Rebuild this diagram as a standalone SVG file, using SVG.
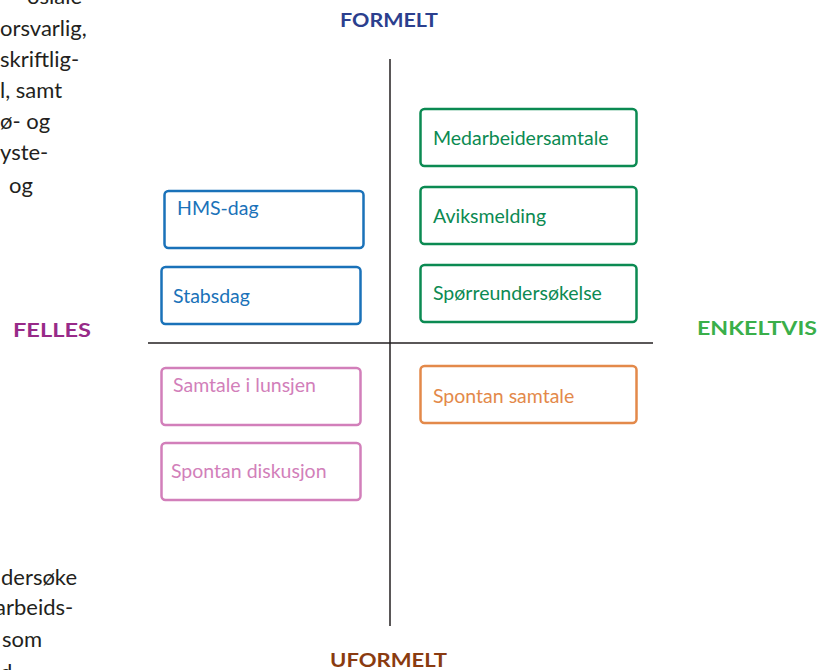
<svg xmlns="http://www.w3.org/2000/svg" width="830" height="670" viewBox="0 0 830 670">
  <style>
    .body { font-family: Lato, "Liberation Sans", sans-serif; font-size: 22px; fill: #231f20; }
    .axis { stroke: #231f20; stroke-width: 1.5; fill: none; }
    .box { fill: #ffffff; stroke-width: 2.5; }
    .lbl { font-family: Lato, "Liberation Sans", sans-serif; font-size: 19.5px; }
    .head { font-family: Lato, "Liberation Sans", sans-serif; font-size: 19px; font-weight: 700; text-anchor: middle; }
    .blue rect { stroke: #1a72b9; } .blue text { fill: #1a72b9; }
    .green rect { stroke: #0b8a52; } .green text { fill: #0b8a52; }
    .pink rect { stroke: #d27fba; } .pink text { fill: #d27fba; }
    .orange rect { stroke: #e3894a; } .orange text { fill: #e3894a; }
  </style>

  <!-- running text at the page margin -->
  <g id="margin-text">
    <text class="body" x="27" y="4">osiale</text>
    <text class="body" x="0" y="36">orsvarlig,</text>
    <text class="body" x="0" y="67">skriftlig-</text>
    <text class="body" x="0" y="98">l, samt</text>
    <text class="body" x="0" y="129">ø- og</text>
    <text class="body" x="0" y="160">yste-</text>
    <text class="body" x="9" y="193">og</text>
    <text class="body" x="1" y="585">dersøke</text>
    <text class="body" x="-5" y="615">arbeids-</text>
    <text class="body" x="2" y="647">som</text>
    <text class="body" x="0" y="680">d</text>
  </g>

  <!-- axes -->
  <g id="connectors">
    <line class="axis" x1="390" y1="59" x2="390" y2="626"/>
    <line class="axis" x1="148" y1="343" x2="653" y2="343"/>
  </g>

  <!-- axis headings -->
  <g id="axis-labels">
    <text class="head" x="389" y="27" fill="#2b3f8e" textLength="98" lengthAdjust="spacingAndGlyphs">FORMELT</text>
    <text class="head" x="388.5" y="667" fill="#8a3b10" textLength="117" lengthAdjust="spacingAndGlyphs">UFORMELT</text>
    <text class="head" x="52" y="337" fill="#982a88" textLength="78" lengthAdjust="spacingAndGlyphs">FELLES</text>
    <text class="head" x="757" y="335" fill="#3aaf4a" textLength="120" lengthAdjust="spacingAndGlyphs">ENKELTVIS</text>
  </g>

  <!-- formal, shared -->
  <g id="hms-dag" class="blue">
    <rect class="box" x="164.5" y="191" width="199" height="57" rx="4"/>
    <text class="lbl" x="177" y="215">HMS-dag</text>
  </g>
  <g id="stabsdag" class="blue">
    <rect class="box" x="161.5" y="267" width="199" height="57" rx="4"/>
    <text class="lbl" x="173" y="303">Stabsdag</text>
  </g>

  <!-- formal, individual -->
  <g id="medarbeidersamtale" class="green">
    <rect class="box" x="420.5" y="109" width="216" height="57" rx="4"/>
    <text class="lbl" x="433" y="145">Medarbeidersamtale</text>
  </g>
  <g id="aviksmelding" class="green">
    <rect class="box" x="420.5" y="187" width="216" height="57" rx="4"/>
    <text class="lbl" x="433" y="223">Aviksmelding</text>
  </g>
  <g id="sporreundersokelse" class="green">
    <rect class="box" x="420.5" y="265" width="216" height="57" rx="4"/>
    <text class="lbl" x="433" y="300">Spørreundersøkelse</text>
  </g>

  <!-- informal, shared -->
  <g id="samtale-i-lunsjen" class="pink">
    <rect class="box" x="161.5" y="368" width="199" height="57" rx="4"/>
    <text class="lbl" x="173" y="392">Samtale i lunsjen</text>
  </g>
  <g id="spontan-diskusjon" class="pink">
    <rect class="box" x="161.5" y="443" width="199" height="57" rx="4"/>
    <text class="lbl" x="171" y="478">Spontan diskusjon</text>
  </g>

  <!-- informal, individual -->
  <g id="spontan-samtale" class="orange">
    <rect class="box" x="420.5" y="366" width="216" height="57" rx="4"/>
    <text class="lbl" x="433" y="403">Spontan samtale</text>
  </g>
</svg>
